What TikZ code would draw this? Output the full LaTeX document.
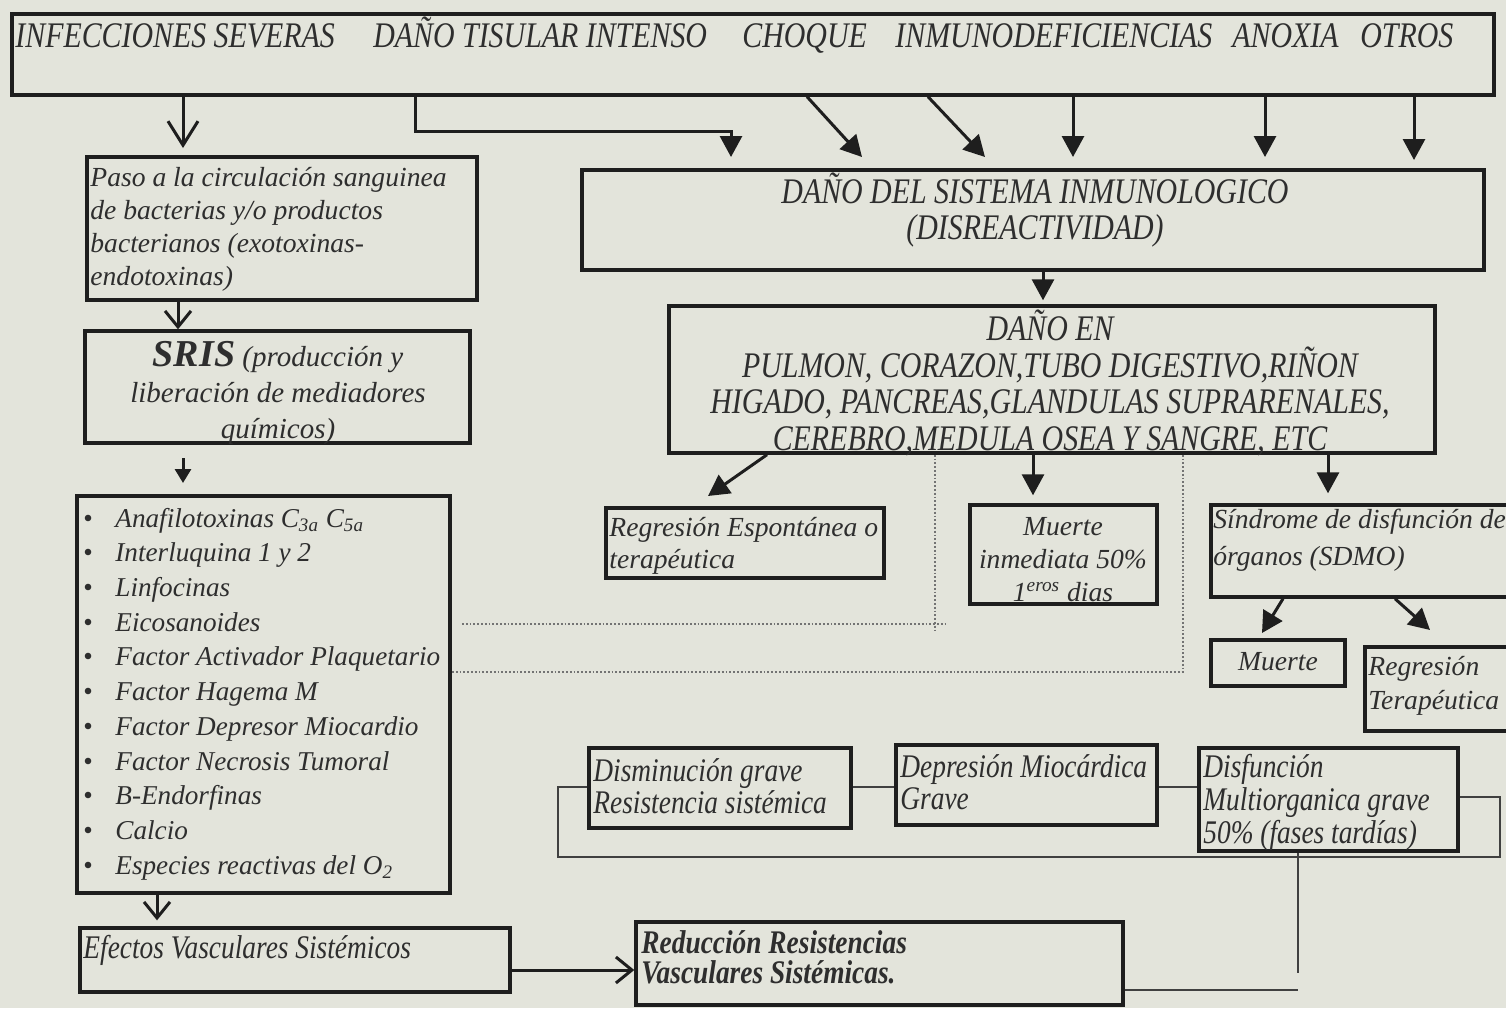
\documentclass[tikz,border=0pt]{standalone}
\usepackage{fontspec}
\setmainfont{Liberation Serif}
\newfontfamily\cond[FakeStretch=0.83]{Liberation Serif}
\usetikzlibrary{arrows.meta,fit}
\definecolor{bg}{HTML}{E3E4DB}
\definecolor{ink}{HTML}{1E1E1E}
\definecolor{txt}{HTML}{2E2E2E}
\begin{document}
\begin{tikzpicture}[x=0.5pt,y=-0.5pt,
  box/.style={draw=ink,line width=1.7pt,inner sep=0pt},
  lab/.style={text=txt,inner sep=0pt,font=\fontsize{13.8}{16.5}\selectfont\itshape},
  caps/.style={text=txt,inner sep=0pt,font=\cond\fontsize{18}{18}\selectfont\itshape},
  cnd/.style={text=txt,inner sep=0pt,font=\cond\fontsize{16.5}{16}\selectfont\itshape},
  con/.style={draw=ink,line width=1.5pt},
  thin/.style={draw=ink!85,line width=1.1pt},
  dots/.style={draw=black!55,line width=0.9pt,densely dotted},
  barb/.style={-{Straight Barb[length=8pt,width=13pt,line width=1.5pt]}},
  bigbarb/.style={-{Straight Barb[length=12pt,width=15pt,line width=1.5pt]}},
  tri/.style={-{Triangle[length=10.5pt,width=11pt]}},
  smalltri/.style={-{Triangle[length=7pt,width=8pt]}}]
\fill[bg] (0,0) rectangle (1506,1008);
\useasboundingbox (0,0) rectangle (1506,1008);
\clip (0,0) rectangle (1506,1008);

% ---------- boxes ----------
\node[box,fit={(12,14)(1494,95)}] (top) {};
\node[box,fit={(87,157)(477,300)}] (paso) {};
\node[box,fit={(85,331)(470,443)}] (sris) {};
\node[box,fit={(77,496)(450,893)}] (lista) {};
\node[box,fit={(80,928)(510,992)}] (efectos) {};
\node[box,fit={(636,922)(1123,1005)}] (reduc) {};
\node[box,fit={(582,170)(1484,270)}] (dsis) {};
\node[box,fit={(669,306)(1435,453)}] (danoen) {};
\node[box,fit={(606,508)(884,578)}] (regesp) {};
\node[box,fit={(970,505)(1157,604)}] (muerteinm) {};
\node[box,fit={(1211,505)(1525,597)}] (sdmo) {};
\node[box,fit={(1211,640)(1345,686)}] (muerte) {};
\node[box,fit={(1365,647)(1525,731)}] (regter) {};
\node[box,fit={(589,748)(851,828)}] (dism) {};
\node[box,fit={(896,745)(1157,825)}] (depr) {};
\node[box,fit={(1199,748)(1458,851)}] (disf) {};

% ---------- texts ----------
\node[caps,anchor=base west] (tA) at (15,47) {INFECCIONES SEVERAS};
\node[caps,anchor=base west] (tB) at (373,47) {DAÑO TISULAR INTENSO};
\node[caps,anchor=base west] (tC) at (742,47) {CHOQUE};
\node[caps,anchor=base west] (tD) at (895,47) {INMUNODEFICIENCIAS};
\node[caps,anchor=base west] (tE) at (1232,47) {ANOXIA};
\node[caps,anchor=base west] (tF) at (1360,47) {OTROS};

\node[lab,anchor=west,align=left] (tpaso) at (90,229)
  {Paso a la circulación sanguinea\\de bacterias y/o productos\\bacterianos (exotoxinas-\\endotoxinas)};
\node[lab,align=center,font=\fontsize{14.5}{18.2}\selectfont\itshape] (tsris) at (278,393)
  {{\fontsize{19}{18.2}\selectfont\bfseries SRIS} (producción y\\liberación de mediadores\\químicos)};
\node[lab,anchor=west,align=left,font=\fontsize{13.6}{17.35}\selectfont\itshape] (tlista) at (83,694)
  {\makebox[16pt][l]{\upshape\textbullet}Anafilotoxinas C\textsubscript{3a} C\textsubscript{5a}\\
   \makebox[16pt][l]{\upshape\textbullet}Interluquina 1 y 2\\
   \makebox[16pt][l]{\upshape\textbullet}Linfocinas\\
   \makebox[16pt][l]{\upshape\textbullet}Eicosanoides\\
   \makebox[16pt][l]{\upshape\textbullet}Factor Activador Plaquetario\\
   \makebox[16pt][l]{\upshape\textbullet}Factor Hagema M\\
   \makebox[16pt][l]{\upshape\textbullet}Factor Depresor Miocardio\\
   \makebox[16pt][l]{\upshape\textbullet}Factor Necrosis Tumoral\\
   \makebox[16pt][l]{\upshape\textbullet}B-Endorfinas\\
   \makebox[16pt][l]{\upshape\textbullet}Calcio\\
   \makebox[16pt][l]{\upshape\textbullet}Especies reactivas del O\textsubscript{2}};
\node[cnd,anchor=west] (tefectos) at (83,950) {Efectos Vasculares Sistémicos};
\node[cnd,anchor=west,align=left,font=\cond\fontsize{16.5}{15}\selectfont\itshape\bfseries] (treduc) at (641,957)
  {Reducción Resistencias\\Vasculares Sistémicas.};
\node[caps,align=center] (tdsis) at (1035,210) {DAÑO DEL SISTEMA INMUNOLOGICO\\(DISREACTIVIDAD)};
\node[caps,align=center,font=\cond\fontsize{18}{18.2}\selectfont\itshape] (tdanoen) at (1050,383)
  {DAÑO EN\\PULMON, CORAZON,TUBO DIGESTIVO,RIÑON\\HIGADO, PANCREAS,GLANDULAS SUPRARENALES,\\CEREBRO,MEDULA OSEA Y SANGRE, ETC};
\node[lab,anchor=west,align=left,font=\fontsize{13.8}{16}\selectfont\itshape] (tregesp) at (609,546)
  {Regresión Espontánea o\\terapéutica};
\node[lab,align=center] (tmuerteinm) at (1063,560) {Muerte\\inmediata 50\%\\1\textsuperscript{eros} dias};
\node[lab,anchor=west,align=left,font=\fontsize{13.8}{18.5}\selectfont\itshape] (tsdmo) at (1213,540)
  {Síndrome de disfunción de\\órganos (SDMO)};
\node[lab] (tmuerte) at (1278,662) {Muerte};
\node[lab,anchor=west,align=left,font=\fontsize{13.8}{17}\selectfont\itshape] (tregter) at (1368,686)
  {Regresión\\Terapéutica};
\node[cnd,anchor=west,align=left] (tdism) at (593,786) {Disminución grave\\Resistencia sistémica};
\node[cnd,anchor=west,align=left] (tdepr) at (900,782) {Depresión Miocárdica\\Grave};
\node[cnd,anchor=west,align=left,font=\cond\fontsize{16.5}{16.5}\selectfont\itshape] (tdisf) at (1203,802)
  {Disfunción\\Multiorganica grave\\50\% (fases tardías)};

% ---------- helper coordinates ----------
\coordinate (p1) at (183,148);
\coordinate (k2) at (415,131);
\coordinate (p2) at (731,157);
\coordinate (s3) at (807,0);   \coordinate (p3) at (862,157);
\coordinate (s4) at (928,0);   \coordinate (p4) at (985,157);
\coordinate (p5) at (1073,157);
\coordinate (p6) at (1265,157);
\coordinate (p7) at (1414,160);
\coordinate (x1043) at (1043,0);
\coordinate (s8) at (767,0);   \coordinate (p8) at (708,496);
\coordinate (x1033) at (1033,0);
\coordinate (x1328) at (1328,0);
\coordinate (s9) at (1283,0);  \coordinate (p9) at (1262,633);
\coordinate (s10) at (1395,0); \coordinate (p10) at (1430,630);
\coordinate (x178) at (178,0);
\coordinate (q1) at (183,458); \coordinate (q2) at (183,483);
\coordinate (x157) at (157,0);
\coordinate (y970) at (0,970);
\coordinate (y787) at (0,787);
\coordinate (y797) at (0,797);
\coordinate (c1) at (558,857);
\coordinate (c2) at (1500,857);
\coordinate (x1298) at (1298,0);
\coordinate (v1) at (1298,973);
\coordinate (y990) at (0,990);
\coordinate (d1) at (462,624); \coordinate (d1e) at (947,624);
\coordinate (x935) at (935,633);
\coordinate (d2) at (452,672); \coordinate (d2e) at (1185,672);
\coordinate (x1183) at (1183,675);

% ---------- connectors ----------
\draw[con,bigbarb] (top.south -| p1) -- (p1);
\draw[con,tri] (top.south -| k2) -- (k2) -- (k2 -| p2) -- (p2);
\draw[con,tri] (top.south -| s3) -- (p3);
\draw[con,tri] (top.south -| s4) -- (p4);
\draw[con,tri] (top.south -| p5) -- (p5);
\draw[con,tri] (top.south -| p6) -- (p6);
\draw[con,tri] (top.south -| p7) -- (p7);

\draw[con,barb] (paso.south -| x178) -- (sris.north -| x178);
\draw[con,smalltri] (q1) -- (q2);
\draw[con,barb,shorten >=3pt] (lista.south -| x157) -- (efectos.north -| x157);
\draw[con,barb] (efectos.east |- y970) -- (reduc.west |- y970);

\draw[con,tri,shorten >=2pt] (dsis.south -| x1043) -- (danoen.north -| x1043);
\draw[con,tri] (danoen.south -| s8) -- (p8);
\draw[con,tri,shorten >=4pt] (danoen.south -| x1033) -- (muerteinm.north -| x1033);
\draw[con,tri,shorten >=5pt] (danoen.south -| x1328) -- (sdmo.north -| x1328);
\draw[con,tri] (sdmo.south -| s9) -- (p9);
\draw[con,tri] (sdmo.south -| s10) -- (p10);

\draw[dots] (d1) -- (d1e);
\draw[dots] (danoen.south -| x935) -- (x935);
\draw[dots] (d2) -- (d2e);
\draw[dots] (danoen.south -| x1183) -- (x1183);

\draw[thin] (dism.west |- y787) -| (c1) -- (c2) |- (disf.east |- y797);
\draw[thin] (dism.east |- y787) -- (depr.west |- y787);
\draw[thin] (depr.east |- y787) -- (disf.west |- y787);
\draw[thin] (disf.south -| x1298) -- (v1);
\draw[thin] (reduc.east |- y990) -- (y990 -| v1);
\end{tikzpicture}
\end{document}
